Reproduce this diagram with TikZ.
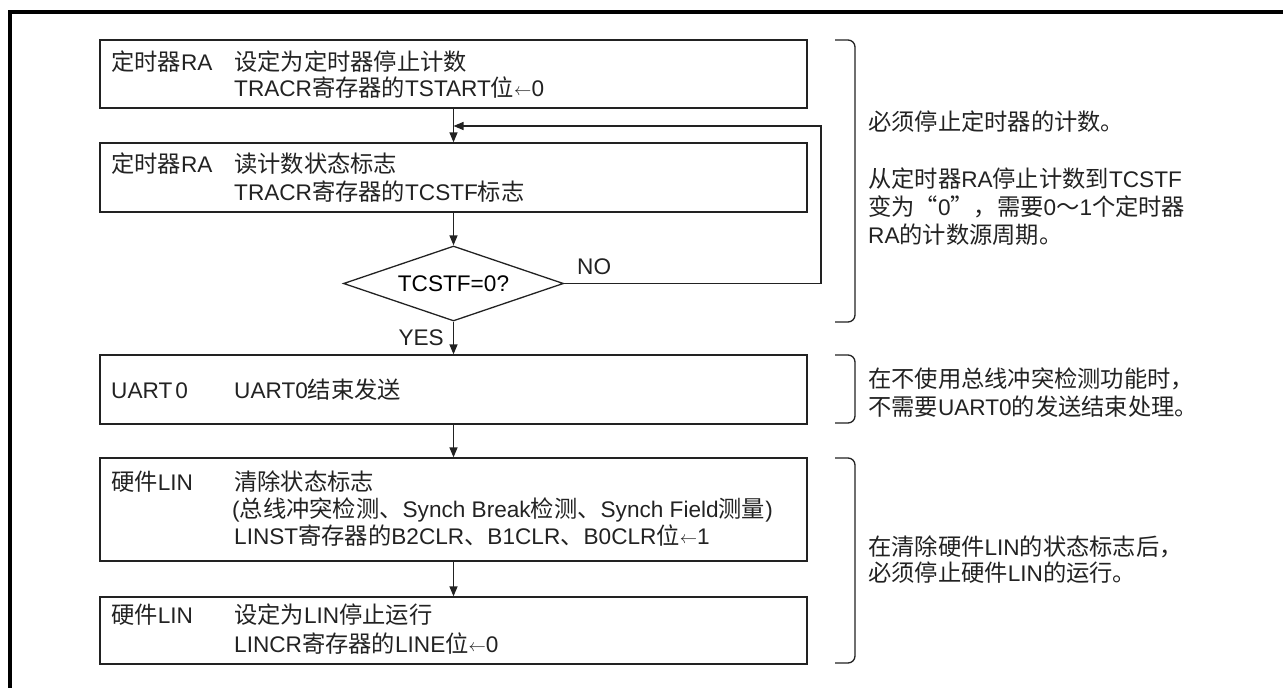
\documentclass[tikz,border=0pt]{standalone}
\usepackage{fontspec}
\setmainfont{Liberation Sans}
\newfontfamily\cjk[Scale=1.03]{Noto Sans CJK SC}
\newcommand\zh[1]{{\cjk #1}}
\newcommand\larr{\raisebox{0.5pt}{\fontsize{17}{17}\selectfont$\leftarrow$}}
\usetikzlibrary{shapes.geometric,arrows.meta}
\definecolor{ink}{HTML}{222222}
\tikzset{
  box/.style={draw=ink, line width=1.3pt, rectangle, minimum width=707pt, inner sep=0pt},
  dia/.style={draw=ink, line width=1.3pt, diamond, minimum width=220pt, minimum height=75pt, aspect=2.93, inner sep=0pt},
  arr/.style={draw=ink, line width=1.3pt, -{Triangle[length=10pt,width=8pt]}},
  brk/.style={draw=ink, line width=1.3pt, rounded corners=7pt},
  txt/.style={anchor=base west, inner sep=0pt, text=ink},
}
\begin{document}
\begin{tikzpicture}[x=1pt,y=-1pt,font=\fontsize{22.6}{27}\selectfont]
\useasboundingbox (0,0) rectangle (1283,688);
% frame
\draw[black, line width=3.3pt] (10,690) -- (10,12) -- (1285,12);
% boxes
\node[box, minimum height=68pt] (b1) at (453.5,74) {};
\node[box, minimum height=69pt] (b2) at (453.5,177.5) {};
\node[dia] (d) at (453.5,283.5) {TCSTF=0?};
\node[box, minimum height=69pt] (b3) at (453.5,389.5) {};
\node[box, minimum height=103pt] (b4) at (453.5,509.5) {};
\node[box, minimum height=67pt] (b5) at (453.5,630.5) {};
% box texts
\node[txt] (t1a) at (111,70) {\zh{定时器}RA};
\node[txt] (t1b) at (234,70) {\zh{设定为定时器停止计数}};
\node[txt] (t1c) at (234,96) {TRACR\zh{寄存器的}TSTART\zh{位}\larr0};
\node[txt] (t2a) at (111,172) {\zh{定时器}RA};
\node[txt] (t2b) at (234,172) {\zh{读计数状态标志}};
\node[txt] (t2c) at (234,200) {TRACR\zh{寄存器的}TCSTF\zh{标志}};
\node[txt] (t3a) at (111,398) {UART\hspace{3pt}0};
\node[txt] (t3b) at (234,398) {UART0\zh{结束发送}};
\node[txt] (t4a) at (111,490) {\zh{硬件}LIN};
\node[txt] (t4b) at (234,490) {\zh{清除状态标志}};
\node[txt] (t4c) at (232,517) {(\zh{总线冲突检测、}Synch Break\zh{检测、}Synch Field\zh{测量})};
\node[txt] (t4d) at (234,544) {LINST\zh{寄存器的}B2CLR\zh{、}B1CLR\zh{、}B0CLR\zh{位}\larr1};
\node[txt] (t5a) at (111,623) {\zh{硬件}LIN};
\node[txt] (t5b) at (234,623) {\zh{设定为}LIN\zh{停止运行}};
\node[txt] (t5c) at (234,652) {LINCR\zh{寄存器的}LINE\zh{位}\larr0};
% connectors
\coordinate (fb) at (453.5,126);
\coordinate (fbr) at (821,126);
\draw[arr] (b1.south) -- (b2.north);
\draw[arr] (d.east) -| (fbr) -- (fb);
\draw[arr] (b2.south) -- (d.north);
\draw[arr] (d.south) -- (b3.north);
\draw[arr] (b3.south) -- (b4.north);
\draw[arr] (b4.south) -- (b5.north);
\node[txt, anchor=base east] (yes) at (444,345) {YES};
\node[txt] (no) at (577,274) {NO};
% brackets
\draw[brk] (835,40) -- (855,40) -- (855,322) -- (835,322);
\draw[brk] (835,355) -- (855,355) -- (855,423) -- (835,423);
\draw[brk] (835,458) -- (855,458) -- (855,663) -- (835,663);
% right notes
\node[txt] (n1) at (868,130) {\zh{必须停止定时器的计数。}};
\node[txt] (n2) at (868,187) {\zh{从定时器}RA\zh{停止计数到}TCSTF};
\node[txt] (n3) at (868,215) {\zh{变为“}0\zh{”，需要}0\zh{～}1\zh{个定时器}};
\node[txt] (n4) at (868,243) {RA\zh{的计数源周期。}};
\node[txt] (n5) at (868,387) {\zh{在不使用总线冲突检测功能时，}};
\node[txt] (n6) at (868,415) {\zh{不需要}UART0\zh{的发送结束处理。}};
\node[txt] (n7) at (868,555) {\zh{在清除硬件}LIN\zh{的状态标志后，}};
\node[txt] (n8) at (868,581) {\zh{必须停止硬件}LIN\zh{的运行。}};
\end{tikzpicture}
\end{document}
